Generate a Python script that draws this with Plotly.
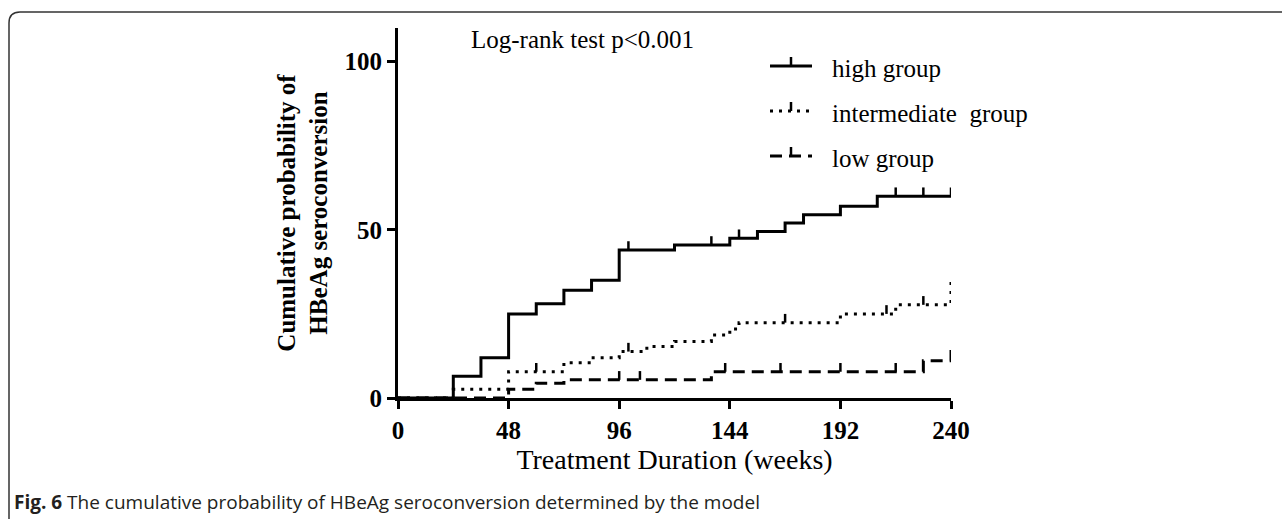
import plotly.graph_objects as go

# ---------------- data ----------------
high_t = [0, 24, 36, 48, 60, 72, 84, 96, 120, 144, 156, 168, 176, 192, 208, 240]
high_v = [0, 6.5, 12, 25, 28, 32, 35, 44, 45.5, 47.5, 49.5, 52, 54.5, 57, 60, 60]
high_cens_t = [100, 136, 148, 216, 228, 240]
high_cens_v = [44, 45.5, 47.5, 60, 60, 60]

inter_t = [0, 24, 48, 72, 84, 96, 108, 120, 136, 144, 148, 192, 216, 240]
inter_v = [0, 2.6, 7.8, 10.5, 12, 13.8, 15.3, 16.8, 18.7, 20.5, 22.4, 25, 27.7, 36]
inter_cens_t = [60, 100, 168, 212, 228]
inter_cens_v = [7.8, 13.8, 22.4, 25, 27.7]

low_t = [0, 48, 60, 72, 136, 228, 240]
low_v = [0, 2.6, 4.4, 5.4, 7.8, 11.1, 15.8]
low_cens_t = [96, 105, 142, 166, 192, 216]
low_cens_v = [5.4, 5.4, 7.8, 7.8, 7.8, 7.8]

x_ticks = [0, 48, 96, 144, 192, 240]
y_ticks = [0, 50, 100]

series_names = ["high group", "intermediate  group", "low group"]
# ---------------------------------------

W, H = 1282, 519
L, R, T, B = 398, 331, 28, 121
PW, PH = W - L - R, H - T - B

def px(xp):
    return (xp - L) / PW

def py(yp):
    return (H - B - yp) / PH

SERIF = "Liberation Serif"
dashes = ["solid", "3px,6px", "12px,7px"]
series = [(high_t, high_v, high_cens_t, high_cens_v),
          (inter_t, inter_v, inter_cens_t, inter_cens_v),
          (low_t, low_v, low_cens_t, low_cens_v)]

fig = go.Figure()
for i, (t, v, ct, cv) in enumerate(series):
    fig.add_trace(go.Scatter(
        x=t, y=v, mode="lines", line_shape="hv",
        line=dict(color="black", width=3, dash=dashes[i]),
        name=series_names[i], showlegend=False))
for i, (t, v, ct, cv) in enumerate(series):
    fig.add_trace(go.Scatter(
        x=ct, y=cv, mode="markers", marker=dict(size=1, color="rgba(0,0,0,0)"),
        error_y=dict(type="data", symmetric=False, array=[2.6] * len(ct),
                     arrayminus=[0] * len(ct), width=0, thickness=2.5, color="black"),
        showlegend=False, hoverinfo="skip"))

fig.update_layout(
    width=W, height=H,
    margin=dict(l=L, r=R, t=T, b=B, pad=0),
    paper_bgcolor="white", plot_bgcolor="white",
    font=dict(family=SERIF, color="black"),
    showlegend=False,
    xaxis=dict(range=[0, 240], tickvals=x_ticks, showgrid=False, zeroline=False,
               showline=True, linecolor="black", linewidth=3,
               ticks="outside", ticklen=8, tickwidth=3, tickcolor="black",
               tickfont=dict(family=SERIF, size=25, color="black", weight="bold"),
               title=dict(text="Treatment Duration (weeks)",
                          font=dict(family=SERIF, size=28, color="black"), standoff=2)),
    yaxis=dict(range=[0, 110], tickvals=y_ticks, showgrid=False, zeroline=False,
               showline=True, linecolor="black", linewidth=3,
               ticks="outside", ticklen=8, tickwidth=3, tickcolor="black",
               tickfont=dict(family=SERIF, size=25, color="black", weight="bold"),
               title=dict(text="<b>Cumulative probability of<br>HBeAg seroconversion</b>",
                          font=dict(family=SERIF, size=25, color="black"), standoff=10)),
)

# legend drawn as sample lines + text
leg_rows = [66, 111, 156]
for i, name in enumerate(series_names):
    yr = leg_rows[i]
    fig.add_shape(type="line", xref="paper", yref="paper",
                  x0=px(770), x1=px(812), y0=py(yr), y1=py(yr),
                  line=dict(color="black", width=3, dash=dashes[i]))
    fig.add_shape(type="line", xref="paper", yref="paper",
                  x0=px(791), x1=px(791), y0=py(yr), y1=py(yr - 9),
                  line=dict(color="black", width=2.5))
    fig.add_annotation(text=name, xref="paper", yref="paper",
                       x=px(830), y=py(yr + 2), xanchor="left", yanchor="middle",
                       showarrow=False, font=dict(family=SERIF, size=25, color="black"))

fig.add_annotation(text="Log-rank test p<0.001", xref="paper", yref="paper",
                   x=px(469), y=py(39), xanchor="left", yanchor="middle", showarrow=False,
                   font=dict(family=SERIF, size=25, color="black"))

fig.add_annotation(text="<b>Fig. 6</b> The cumulative probability of HBeAg seroconversion determined by the model",
                   xref="paper", yref="paper", x=px(12), y=py(502),
                   xanchor="left", yanchor="middle", showarrow=False,
                   font=dict(family="Open Sans", size=19, color="#231f20"))

border = (f"M {px(9)},{py(540)} L {px(9)},{py(23)} Q {px(9)},{py(12)} {px(20)},{py(12)} "
          f"L {px(1300)},{py(12)}")
fig.add_shape(type="path", path=border, xref="paper", yref="paper",
              line=dict(color="#333333", width=1.5), layer="above")

fig.write_html("out.html")
